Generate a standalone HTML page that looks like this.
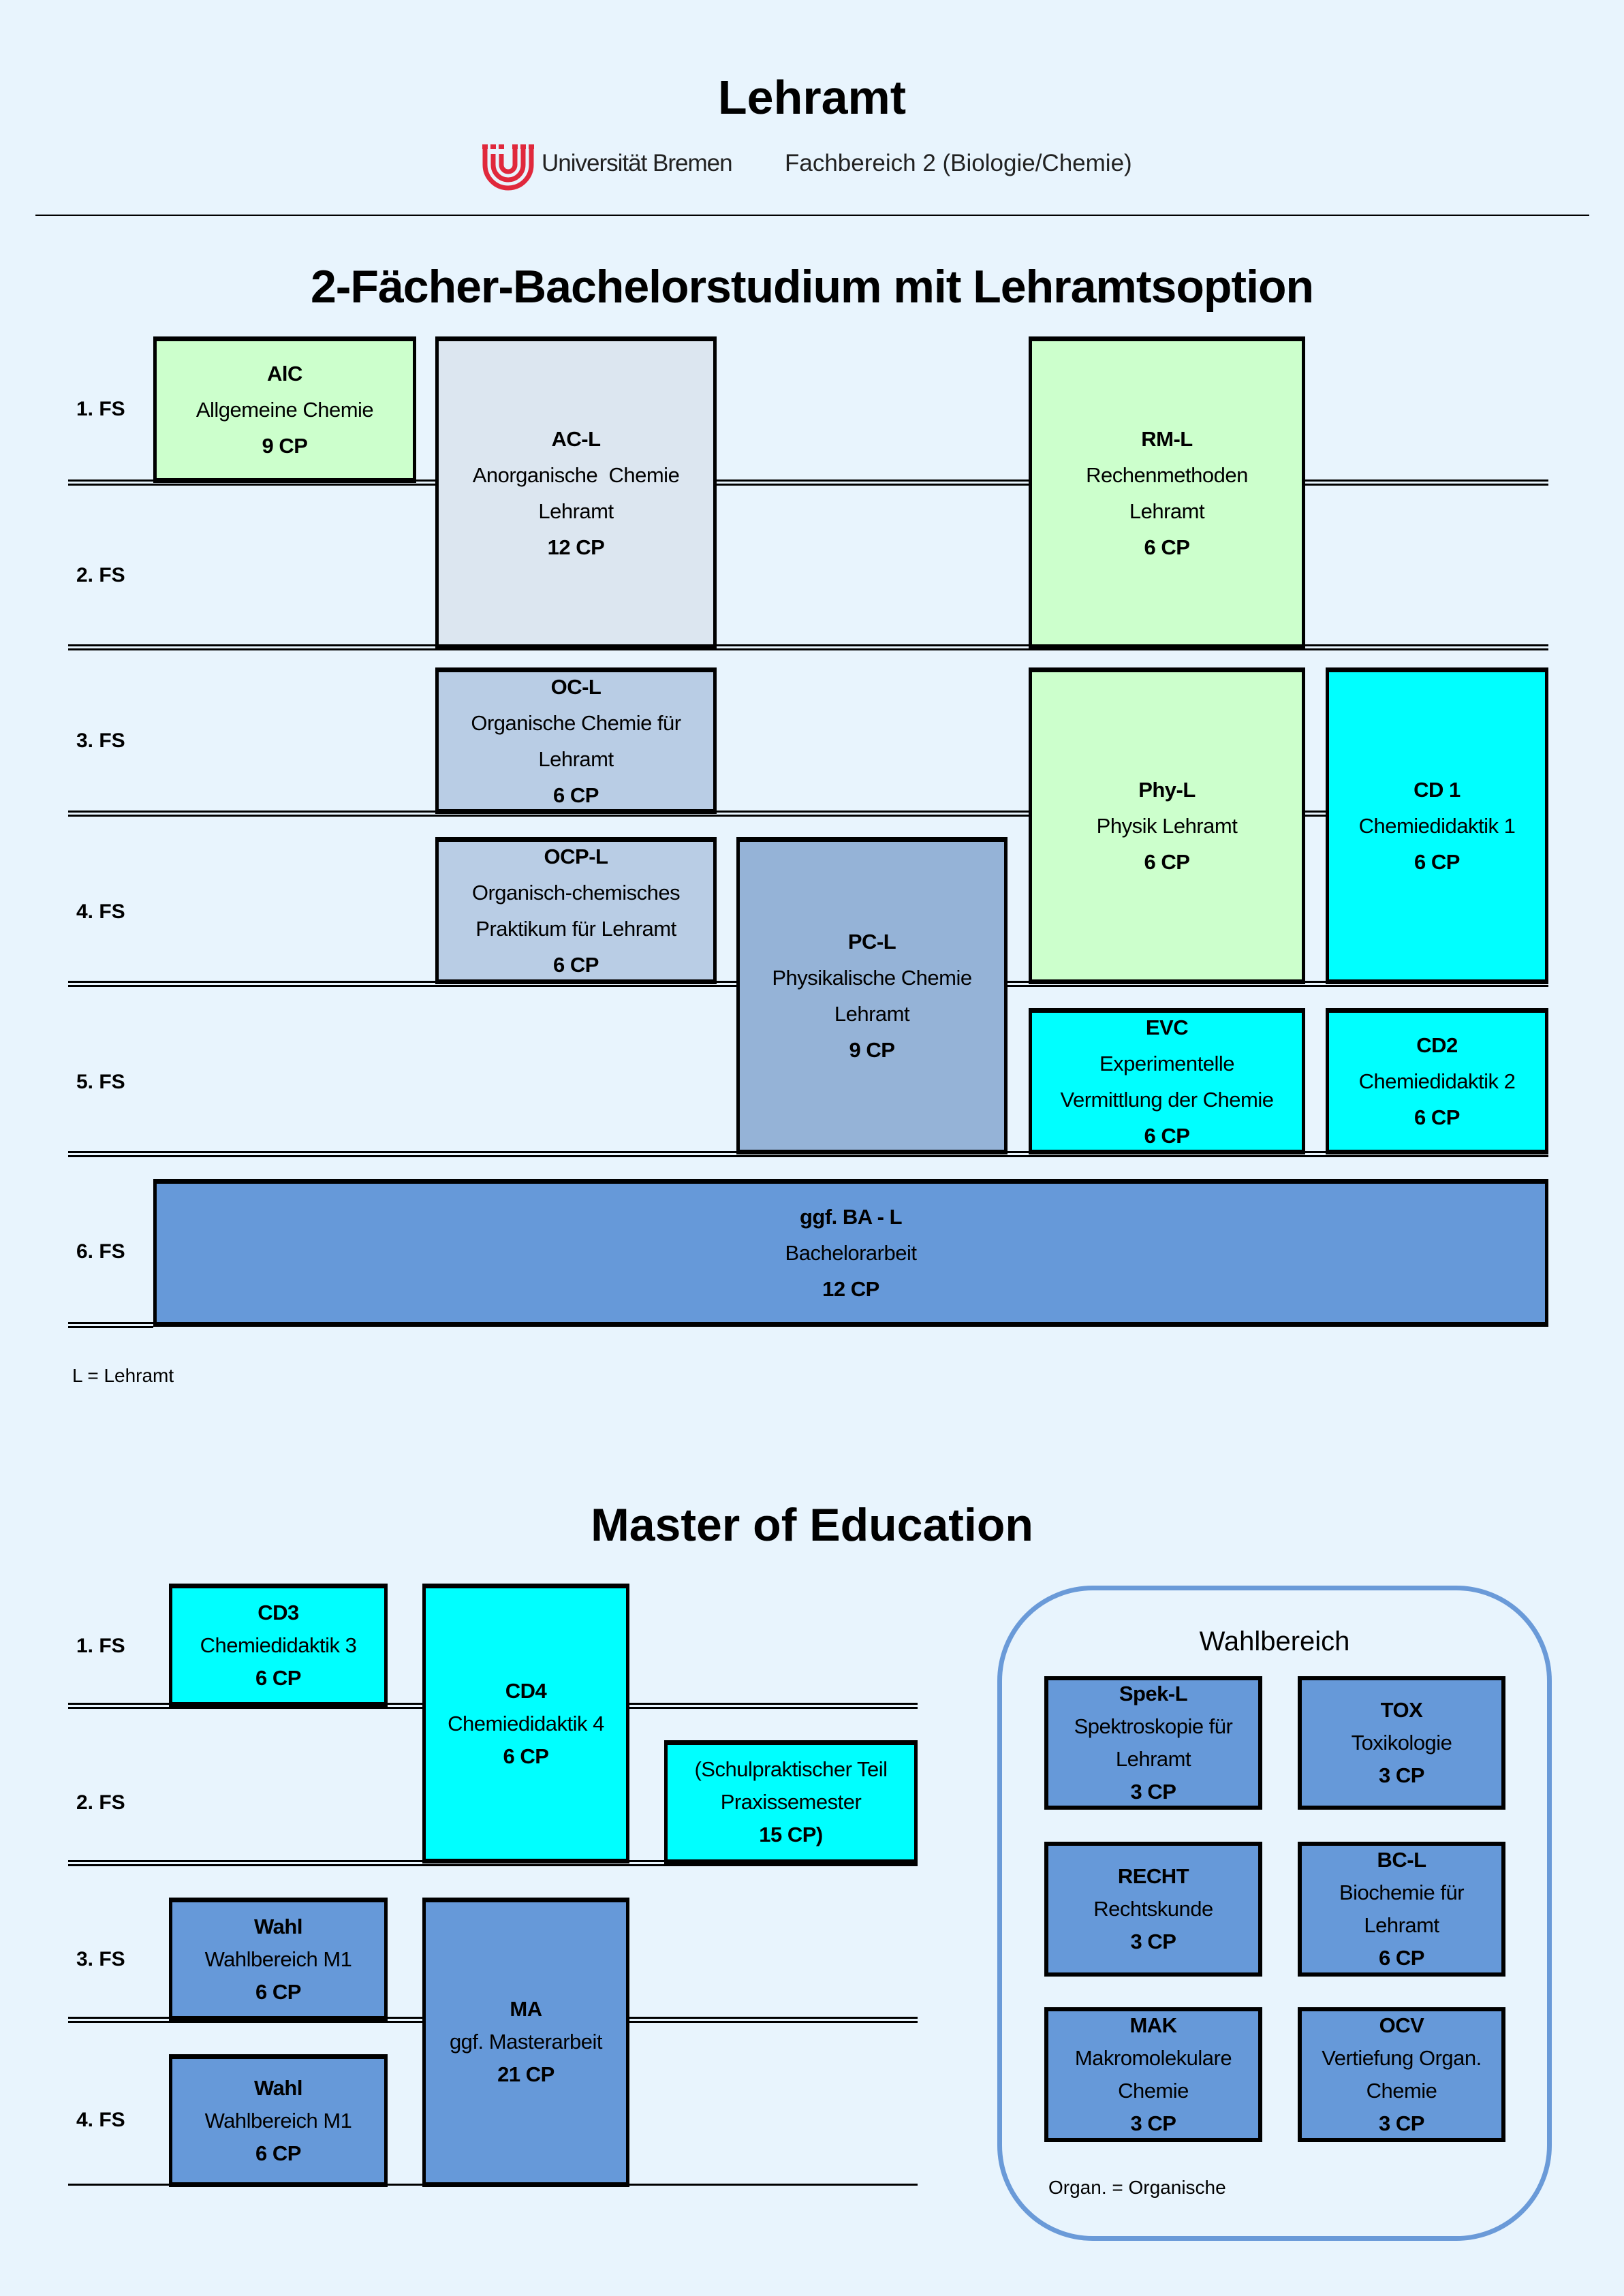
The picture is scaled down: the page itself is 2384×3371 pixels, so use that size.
<!DOCTYPE html>
<html><head><meta charset="utf-8"><style>
html,body{margin:0;padding:0}
body{width:2384px;height:3371px;background:#e8f4fd;position:relative;overflow:hidden;font-family:"Liberation Sans",sans-serif;color:#000}
.a{position:absolute}
.t{position:absolute;text-align:center;white-space:nowrap}
.b{position:absolute;box-sizing:border-box;border:5px solid #000;border-top-width:7px;border-bottom-width:7px;display:flex;flex-direction:column;justify-content:center;align-items:center;font-size:31px;line-height:53px;text-align:center;white-space:nowrap;letter-spacing:-0.5px}
.b b{font-weight:bold}
.dl{position:absolute;height:9px;border-top:3px solid #000;border-bottom:3px solid #000;box-sizing:border-box}
.sl{position:absolute;height:3px;background:#000}
.fs{position:absolute;left:112px;font-size:30px;font-weight:bold;transform:translateY(-50%)}
.g{background:#ccffcc}.gr{background:#dce6f0}.oc{background:#b9cde5}.pc{background:#95b3d7}.c{background:#00ffff}.bl{background:#6699d9}
.w{border-width:6px}
</style></head><body>
<div class="t" style="left:0;width:2384px;top:103px;font-size:70px;font-weight:bold">Lehramt</div>
<svg class="a" style="left:708px;top:212px" width="76" height="70" viewBox="0 0 76 70">
<g fill="none" stroke="#e0283c" stroke-width="7">
<path d="M4 6 V30 A34 34 0 0 0 72 30 V6"/>
<path d="M16 14 V30 A22 22 0 0 0 60 30 V6"/>
<path d="M28 14 V30 A10 10 0 0 0 48 30 V6"/>
</g>
<rect x="0" y="0" width="8" height="7" fill="#e0283c"/><rect x="12" y="0" width="8" height="7" fill="#e0283c"/><rect x="24" y="0" width="8" height="7" fill="#e0283c"/><rect x="44" y="0" width="8" height="7" fill="#e0283c"/><rect x="56" y="0" width="8" height="7" fill="#e0283c"/><rect x="68" y="0" width="8" height="7" fill="#e0283c"/>
</svg>
<div class="a" style="left:795px;top:220px;font-size:35px;color:#222;letter-spacing:-1px">Universität Bremen</div>
<div class="a" style="left:1152px;top:220px;font-size:35px;color:#222">Fachbereich 2 (Biologie/Chemie)</div>
<div class="sl" style="left:52px;width:2281px;top:315px;height:2px"></div>
<div class="t" style="left:0;width:2384px;top:382px;font-size:68px;font-weight:bold;letter-spacing:-1px">2-Fächer-Bachelorstudium mit Lehramtsoption</div>

<div class="dl" style="left:100px;width:2173px;top:704px"></div>
<div class="dl" style="left:100px;width:2173px;top:946px"></div>
<div class="dl" style="left:100px;width:2173px;top:1190px"></div>
<div class="dl" style="left:100px;width:2173px;top:1440px"></div>
<div class="dl" style="left:100px;width:2173px;top:1690px"></div>
<div class="dl" style="left:100px;width:125px;top:1941px"></div>

<div class="fs" style="top:601px">1. FS</div>
<div class="fs" style="top:845px">2. FS</div>
<div class="fs" style="top:1088px">3. FS</div>
<div class="fs" style="top:1339px">4. FS</div>
<div class="fs" style="top:1589px">5. FS</div>
<div class="fs" style="top:1838px">6. FS</div>

<div class="b g" style="left:225px;top:494px;width:386px;height:215px"><b>AlC</b><span>Allgemeine Chemie</span><b>9 CP</b></div>
<div class="b gr" style="left:639px;top:494px;width:413px;height:459px"><b>AC-L</b><span>Anorganische&nbsp; Chemie</span><span>Lehramt</span><b>12 CP</b></div>
<div class="b g" style="left:1510px;top:494px;width:406px;height:459px"><b>RM-L</b><span>Rechenmethoden</span><span>Lehramt</span><b>6 CP</b></div>
<div class="b oc" style="left:639px;top:980px;width:413px;height:215px"><b>OC-L</b><span>Organische Chemie für</span><span>Lehramt</span><b>6 CP</b></div>
<div class="b g" style="left:1510px;top:980px;width:406px;height:465px"><b>Phy-L</b><span>Physik Lehramt</span><b>6 CP</b></div>
<div class="b c" style="left:1946px;top:980px;width:327px;height:465px"><b>CD 1</b><span>Chemiedidaktik 1</span><b>6 CP</b></div>
<div class="b oc" style="left:639px;top:1229px;width:413px;height:216px"><b>OCP-L</b><span>Organisch-chemisches</span><span>Praktikum für Lehramt</span><b>6 CP</b></div>
<div class="b pc" style="left:1081px;top:1229px;width:398px;height:466px"><b>PC-L</b><span>Physikalische Chemie</span><span>Lehramt</span><b>9 CP</b></div>
<div class="b c" style="left:1510px;top:1480px;width:406px;height:215px"><b>EVC</b><span>Experimentelle</span><span>Vermittlung der Chemie</span><b>6 CP</b></div>
<div class="b c" style="left:1946px;top:1480px;width:327px;height:215px"><b>CD2</b><span>Chemiedidaktik 2</span><b>6 CP</b></div>
<div class="b bl" style="left:225px;top:1731px;width:2048px;height:217px"><b>ggf. BA - L</b><span>Bachelorarbeit</span><b>12 CP</b></div>
<div class="a" style="left:106px;top:2004px;font-size:28px">L = Lehramt</div>

<div class="t" style="left:0;width:2384px;top:2200px;font-size:68px;font-weight:bold">Master of Education</div>
<div class="dl" style="left:100px;width:1247px;top:2500px"></div>
<div class="dl" style="left:100px;width:1247px;top:2731px"></div>
<div class="dl" style="left:100px;width:1247px;top:2961px"></div>
<div class="sl" style="left:100px;width:1247px;top:3206px"></div>
<div class="fs" style="top:2417px">1. FS</div>
<div class="fs" style="top:2647px">2. FS</div>
<div class="fs" style="top:2877px">3. FS</div>
<div class="fs" style="top:3113px">4. FS</div>

<div class="b c" style="left:248px;top:2325px;width:321px;height:181px;line-height:48px"><b>CD3</b><span>Chemiedidaktik 3</span><b>6 CP</b></div>
<div class="b c" style="left:620px;top:2325px;width:304px;height:411px;line-height:48px;justify-content:flex-start;padding-top:127px"><b>CD4</b><span>Chemiedidaktik 4</span><b>6 CP</b></div>
<div class="b c" style="left:975px;top:2555px;width:372px;height:182px;line-height:48px"><span>(Schulpraktischer Teil</span><span>Praxissemester</span><b>15 CP)</b></div>
<div class="b bl" style="left:248px;top:2786px;width:321px;height:181px;line-height:48px"><b>Wahl</b><span>Wahlbereich M1</span><b>6 CP</b></div>
<div class="b bl" style="left:620px;top:2786px;width:304px;height:425px;line-height:48px;justify-content:flex-start;padding-top:133px"><b>MA</b><span>ggf. Masterarbeit</span><b>21 CP</b></div>
<div class="b bl" style="left:248px;top:3016px;width:321px;height:195px;line-height:48px"><b>Wahl</b><span>Wahlbereich M1</span><b>6 CP</b></div>

<div class="a" style="left:1464px;top:2328px;width:814px;height:962px;box-sizing:border-box;border:7px solid #6a9ad8;border-radius:140px"></div>
<div class="t" style="left:1464px;width:814px;top:2388px;font-size:40px">Wahlbereich</div>
<div class="b bl w" style="left:1533px;top:2461px;width:320px;height:196px;line-height:48px"><b>Spek-L</b><span>Spektroskopie für</span><span>Lehramt</span><b>3 CP</b></div>
<div class="b bl w" style="left:1905px;top:2461px;width:305px;height:196px;line-height:48px"><b>TOX</b><span>Toxikologie</span><b>3 CP</b></div>
<div class="b bl w" style="left:1533px;top:2704px;width:320px;height:198px;line-height:48px"><b>RECHT</b><span>Rechtskunde</span><b>3 CP</b></div>
<div class="b bl w" style="left:1905px;top:2704px;width:305px;height:198px;line-height:48px"><b>BC-L</b><span>Biochemie für</span><span>Lehramt</span><b>6 CP</b></div>
<div class="b bl w" style="left:1533px;top:2947px;width:320px;height:198px;line-height:48px"><b>MAK</b><span>Makromolekulare</span><span>Chemie</span><b>3 CP</b></div>
<div class="b bl w" style="left:1905px;top:2947px;width:305px;height:198px;line-height:48px"><b>OCV</b><span>Vertiefung Organ.</span><span>Chemie</span><b>3 CP</b></div>
<div class="a" style="left:1539px;top:3196px;font-size:28px">Organ. = Organische</div>
</body></html>
